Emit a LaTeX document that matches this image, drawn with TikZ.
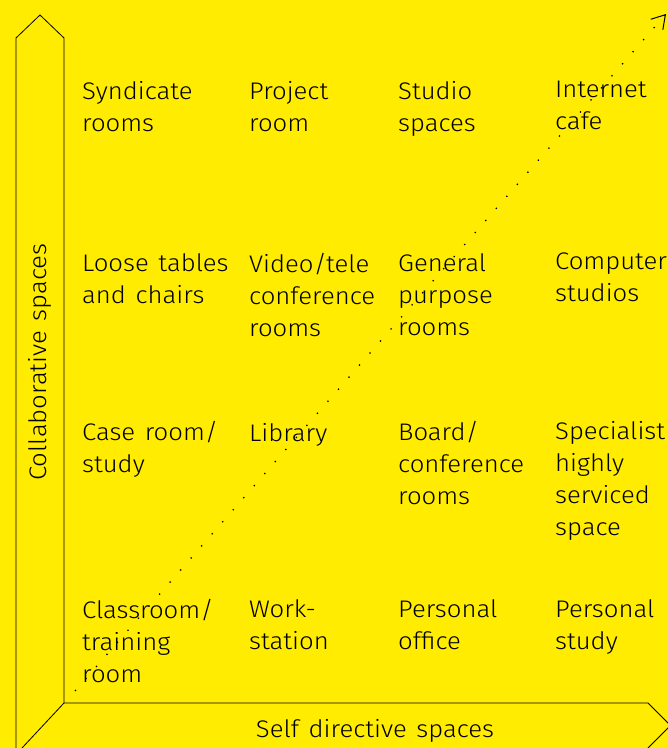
\documentclass[tikz,border=0pt]{standalone}
\usepackage{fontspec}
\setmainfont{Fira Sans}[UprightFont=* Light, FakeStretch=1.07, WordSpace=1.35]
\usepackage{tikz}
\usetikzlibrary{arrows.meta,positioning}
\definecolor{bgyellow}{RGB}{255,236,0}

\begin{document}
\begin{tikzpicture}[
        x=1pt, y=-1pt,
        room/.style={anchor=north west, inner sep=0pt, align=left, font=\fontsize{24}{32}\selectfont,
            execute at begin node={\rule{0pt}{20pt}}},
        axislabel/.style={inner sep=0pt, font=\fontsize{24}{32}\selectfont},
        band/.style={draw=black, line width=0.8pt},
        trend/.style={line width=1.3pt, dash pattern=on 1.3pt off 14.7pt, -{Straight Barb[length=13pt,width=16pt,line width=1pt]}}
        ]

    % Background
    \fill[bgyellow] (0,0) rectangle (668,748);
    \useasboundingbox (0,0) rectangle (668,748);

    % Bands
    \draw[band] (16,748) -- (16,38) -- (40,15) -- (64,38) -- (64,703) -- (22,748);
    \draw[band] (64,703) -- (648,703) -- (670.5,725.5) -- (648,748);

    % Axis labels
    \node[axislabel, rotate=90, anchor=base] (collab) at (46,362) {Collaborative spaces};
    \node[axislabel, anchor=base] (selfdir) at (375,737) {Self directive spaces};

    % Nodes (first baseline 20pt below the anchor)
    \node[room] (syndicate) at (82,81) {Syndicate\\rooms};
    \node[room] (project) at (249,81) {Project\\room};
    \node[room] (studio) at (398,81) {Studio\\spaces};
    \node[room] (internet) at (555,81) {Internet\\cafe};

    \node[room] (loose) at (82,253) {Loose tables\\and chairs};
    \node[room] (video) at (249,253) {Video/tele\\conference\\rooms};
    \node[room] (general) at (398,253) {General\\purpose\\rooms};
    \node[room] (computer) at (555,253) {Computer\\studios};

    \node[room] (case) at (82,421) {Case room/\\study};
    \node[room] (library) at (249,421) {Library};
    \node[room] (board) at (398,421) {Board/\\conference\\rooms};
    \node[room] (specialist) at (555,421) {Specialist\\highly\\serviced\\space};

    \node[room] (classroom) at (82,599) {Classroom/\\training\\room};
    \node[room] (work) at (249,599) {Work-\\station};
    \node[room] (office) at (398,599) {Personal\\office};
    \node[room] (study) at (555,599) {Personal\\study};

    % Trend
    \coordinate (low) at (75,691);
    \coordinate (high) at (666,14);
    \draw[trend] (low) -- (high);

\end{tikzpicture}
\end{document}
